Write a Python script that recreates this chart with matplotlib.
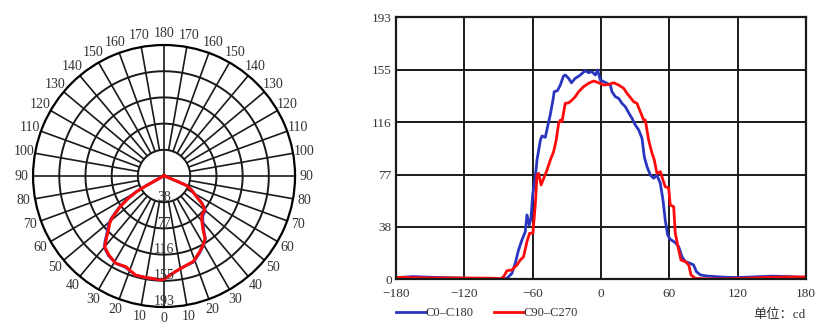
import numpy as np
import matplotlib
matplotlib.use("Agg")
import matplotlib.pyplot as plt

plt.rcParams["font.family"] = ["Liberation Serif", "Noto Sans CJK SC"]

BLUE = "#2a35c0"
RED = "#ff0a0a"
GRID = "#1a1a1a"
TEXT = "#333333"

# 极坐标配光曲线 (gamma 角, cd)
polar_gamma = [-180, -90, -75, -66, -62.5, -61.5, -60.5, -58, -55, -51, -49, -45,
               -42, -40, -35, -29, -23, -16, -10.6, -2, 0, 0.6, 6.6, 12, 19, 25.4,
               30, 33.3, 36.5, 40, 44, 50.3, 54, 58.5, 63, 67, 68, 69, 75, 90, 180]
polar_c0 = [0.5, 0, 1, 4, 12, 31, 48, 64, 81, 101, 108, 119,
            130, 137, 143, 147, 146, 152, 152, 153, 152, 151, 142, 137, 134, 124,
            117, 111, 98, 89, 82, 79, 70, 55, 46, 38, 22, 10, 2, 0, 0.5]
polar_c90 = [0.5, 0, 1, 4, 12, 30, 46, 62, 79, 99, 106, 117,
             128, 136, 142, 147, 145, 152, 152, 153, 152, 151, 142, 137, 133, 123,
             116, 110, 96, 87, 80, 78, 69, 54, 45, 37, 22, 10, 2, 0, 0.5]

# 直角坐标曲线
c0_gamma = [-180, -165, -150, -120, -100, -87, -82.6, -78.2, -75.3, -72.4, -69.4, -66.5,
            -65, -63, -61.5, -60, -57.6, -56.2, -53.2, -51.8, -48.9, -46.9, -44.6, -42.2,
            -41.1, -38.2, -35.8, -32.9, -31.3, -28.4, -26, -22.6, -18.2, -13.8, -10.9, -8,
            -5, -3, -0.6, 2.3, 5.3, 8.2, 9.6, 12.6, 15.5, 18.4, 21.3, 24.3, 27.2, 30.1,
            33.1, 36, 38, 40.4, 43.3, 46.2, 49.1, 52.1, 54.4, 56.4, 58.5, 60.8, 65.2, 68.2,
            71.1, 74.1, 78.4, 81.3, 83.8, 87.3, 93.2, 109.1, 120, 150, 165, 180]
c0_cd = [1.2, 2.0, 1.5, 0.8, 0.3, 0, 0.7, 4.4, 11.8, 21.6, 29, 35,
         47.4, 40, 45, 62, 75.6, 87.9, 102.6, 105.6, 104.6, 112.4, 121, 132,
         138.2, 139, 143, 149.8, 150.5, 148, 144.8, 148, 150.5, 153.7, 152.2, 153,
         150.5, 154.2, 146.8, 145.6, 144.4, 143.1, 138.2, 134.5, 133.3, 129.6, 127.2, 122.7, 118.6, 113.7,
         110, 103.9, 90.3, 83, 76.8, 74.4, 76.8, 70.7, 58.4, 43.7, 32.6, 29.5, 27, 24,
         16.6, 13, 11.8, 10.5, 5.6, 3.2, 2.4, 1.5, 1.3, 2.3, 2, 1.2]

c90_gamma = [-180, -150, -120, -95, -88, -85.5, -82.6, -78.2, -73.8, -70.9, -68, -65,
             -62.7, -59.8, -57.6, -56.2, -54.7, -52.6, -50.3, -47.4, -44.5, -41.6, -39.3, -37.2,
             -35.7, -34.3, -31.4, -28.4, -25.5, -22.6, -19.6, -15.3, -10.9, -6.5, -2.1, 2.3,
             6.7, 11.1, 15.5, 19.9, 22.8, 25.7, 28.7, 31.6, 34.5, 37.5, 38.9, 41.8,
             44.8, 46.8, 49.1, 52.1, 54.4, 56.4, 59.4, 60.8, 63.8, 65.2, 68.2, 70.2,
             74.1, 77.1, 79, 82.8, 93.2, 109.1, 120, 150, 180]
c90_cd = [1.5, 1, 1, 0.8, 0.5, 1.9, 6.3, 6.9, 10.5, 14.2, 16.6, 27.7,
          33.9, 34, 56, 76.8, 78, 69.5, 74.4, 80.5, 87.9, 94, 102.6, 114.9,
          117.3, 116, 129.6, 130, 132, 134.5, 138.2, 141.9, 144.4, 146.1, 144.8, 143.1,
          143.5, 144.8, 143.1, 140.7, 137, 134, 130.8, 129.6, 123.5, 117.3, 117.3, 102.6,
          92.8, 87.9, 78, 79.3, 73.2, 68.2, 67.3, 54.7, 53.5, 33.9, 21.6, 14.2,
          13, 10.5, 3.2, 0.7, 0.3, 0.3, 0.6, 1.5, 1.8]

ring_values = [38.6, 77.2, 115.8, 154.4, 193]
ring_labels = ["38", "77", "116", "155", "193"]
y_ticks = [0] + ring_values
y_labels = ["0"] + ring_labels
x_ticks = [-180, -120, -60, 0, 60, 120, 180]
R_MAX = 193


def draw_polar(fig):
    ax = fig.add_axes([0.0398, 0.0725, 0.3157, 0.7915], projection="polar")
    ax.set_theta_zero_location("S")
    ax.set_ylim(0, R_MAX)
    ax.grid(False)
    ax.set_xticks([])
    ax.set_yticks([])
    ax.spines["polar"].set_linewidth(1.6)

    full = np.linspace(0, 2 * np.pi, 361)
    for r in ring_values[:-1]:
        ax.plot(full, np.full_like(full, r), color=GRID, lw=1.4)
    for a in range(0, 360, 10):
        th = np.deg2rad(a)
        r0 = 0 if a % 90 == 0 else ring_values[0]
        ax.plot([th, th], [r0, R_MAX], color=GRID, lw=1.2)

    # 角度标注
    for a in range(0, 181, 10):
        sides = [a] if a in (0, 180) else [a, -a]
        for s in sides:
            ax.text(np.deg2rad(s), 210, str(a), ha="center", va="center",
                    fontsize=10, color=TEXT, clip_on=False)
    for r, lab in zip(ring_values, ring_labels):
        ax.text(0, r - 7.5, lab, ha="center", va="center", fontsize=10, color=TEXT)

    ax.plot(np.deg2rad(polar_gamma), polar_c0, color=BLUE, lw=2.0)
    ax.plot(np.deg2rad(polar_gamma), polar_c90, color=RED, lw=2.2)


def draw_linear(fig):
    ax = fig.add_axes([0.4771, 0.1562, 0.494, 0.7915])
    ax.plot(c0_gamma, c0_cd, color=BLUE, lw=2.0, label="C0–C180")
    ax.plot(c90_gamma, c90_cd, color=RED, lw=2.0, label="C90–C270")
    ax.set_xlim(-180, 180)
    ax.set_ylim(0, R_MAX)
    ax.set_xticks(x_ticks)
    ax.set_yticks(y_ticks)
    ax.set_yticklabels(y_labels)
    ax.grid(True, color=GRID, lw=1.4)
    ax.set_axisbelow(True)
    ax.tick_params(length=0, labelsize=9.5, colors=TEXT)
    ax.tick_params(axis="x", pad=6)
    ax.tick_params(axis="y", pad=3)
    for s in ax.spines.values():
        s.set_linewidth(1.6)
        s.set_color(GRID)

    ax.legend(loc="center left", bbox_to_anchor=(0, -0.129), ncol=2, frameon=False,
              fontsize=9, handlelength=2.4, handletextpad=0, columnspacing=1.6,
              borderpad=0, borderaxespad=0, labelcolor=TEXT)
    ax.text(1.0, -0.136, "单位：cd", transform=ax.transAxes, ha="right", va="center",
            fontsize=9.5, color=TEXT)


fig = plt.figure(figsize=(8.3, 3.31), dpi=100)
fig.patch.set_facecolor("white")
draw_polar(fig)
draw_linear(fig)
fig.savefig("out.png", dpi=100, facecolor="white")
